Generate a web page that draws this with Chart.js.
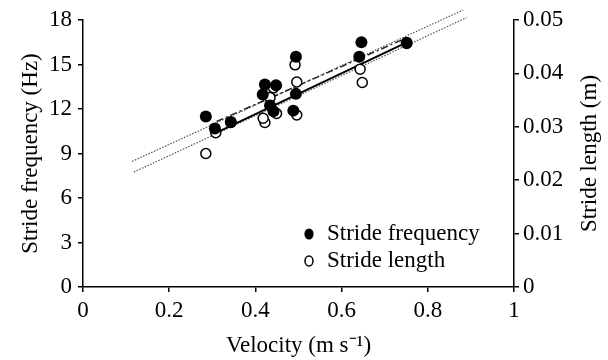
<!DOCTYPE html>
<html><head><meta charset="utf-8">
<script src="https://cdn.jsdelivr.net/npm/chart.js@4/dist/chart.umd.min.js"></script>
<style>html,body{margin:0;padding:0;background:#fff}#wrap{width:608px;height:360px}</style>
</head><body><div id="wrap"><canvas id="c" width="608" height="360"></canvas></div>
<script>
// ---- data ----
const velocityTicks = [0, 0.2, 0.4, 0.6, 0.8, 1];
const frequencyTicks = [0, 3, 6, 9, 12, 15, 18];
const lengthTicks = [0, 0.01, 0.02, 0.03, 0.04, 0.05];

const freqVelocity = [0.285, 0.306, 0.343, 0.422, 0.448, 0.417, 0.434, 0.442, 0.494, 0.494, 0.488, 0.646, 0.641, 0.751];
const strideFrequency = [11.49, 10.68, 11.13, 13.65, 13.60, 12.97, 12.23, 11.85, 15.52, 13.02, 11.89, 16.50, 15.52, 16.47];

const lengthVelocity = [0.285, 0.308, 0.343, 0.422, 0.449, 0.418, 0.434, 0.442, 0.496, 0.496, 0.492, 0.648, 0.643, 0.751];
const strideLength = [0.0250, 0.0289, 0.0308, 0.0308, 0.0325, 0.0316, 0.0355, 0.0373, 0.0322, 0.0384, 0.0416, 0.0383, 0.0408, 0.0456];

const freqFitX = [0.30, 0.75];
const freqFitY = [10.27, 16.47];
const lengthFitX = [0.31, 0.745];
const lengthFitY = [0.0310, 0.04645];
const freqExtX = [0.118, 0.89];
const freqExtY = [7.75, 18.16];
const lengthExtX = [0.114, 0.882];
const lengthExtY = [0.02353, 0.05186];

const xTitle = 'Velocity (m s\u207B\u00B9)';
const yTitle = 'Stride frequency (Hz)';
const y2Title = 'Stride length (m)';

// ---- helpers ----
const pts = (xs, ys) => xs.map((x, i) => ({x: x, y: ys[i]}));
const FONT = 'Liberation Serif, Times New Roman, serif';
Chart.defaults.color = '#000';
Chart.defaults.font.family = FONT;

const overlay = {
  id: 'overlay',
  afterDraw(chart) {
    const ctx = chart.ctx;
    const ca = chart.chartArea;
    ctx.save();
    // right axis title reading bottom-to-top
    ctx.font = '23px ' + FONT;
    ctx.fillStyle = '#000';
    ctx.textAlign = 'center';
    ctx.textBaseline = 'middle';
    ctx.translate(590, (ca.top + ca.bottom) / 2);
    ctx.rotate(-Math.PI / 2);
    ctx.fillText(y2Title, 0, 0);
    ctx.restore();

    // legend
    ctx.save();
    const ds = chart.data.datasets;
    ctx.font = '23px ' + FONT;
    ctx.fillStyle = '#000';
    ctx.textAlign = 'left';
    ctx.textBaseline = 'alphabetic';
    ctx.beginPath();
    ctx.ellipse(309, 234, 4.6, 5.6, 0, 0, Math.PI * 2);
    ctx.fill();
    ctx.fillText(ds[0].label, 327, 240);
    ctx.beginPath();
    ctx.lineWidth = 1.5;
    ctx.strokeStyle = '#000';
    ctx.ellipse(309, 261, 4, 5, 0, 0, Math.PI * 2);
    ctx.stroke();
    ctx.fillText(ds[1].label, 327, 267);
    ctx.restore();
  }
};

const axisCommon = (ticksArr, pad) => ({
  afterBuildTicks: s => { s.ticks = ticksArr.map(v => ({value: v})); },
  ticks: {font: {size: 23, family: FONT}, color: '#000', padding: pad, callback: v => String(v)},
  grid: {drawOnChartArea: false, drawTicks: true, tickLength: 5, color: '#000', lineWidth: 1.5},
  border: {display: true, color: '#000', width: 1.5}
});

new Chart(document.getElementById('c'), {
  type: 'scatter',
  data: {
    datasets: [
      {label: 'Stride frequency', data: pts(freqVelocity, strideFrequency), yAxisID: 'y',
       pointStyle: 'circle', pointRadius: 6, backgroundColor: '#000', borderColor: '#000', borderWidth: 0},
      {label: 'Stride length', data: pts(lengthVelocity, strideLength), yAxisID: 'y2',
       pointStyle: 'circle', pointRadius: 5, backgroundColor: '#fff', borderColor: '#000', borderWidth: 1.5},
      {label: 'Frequency fit', type: 'line', data: pts(freqFitX, freqFitY), yAxisID: 'y',
       borderColor: '#000', borderWidth: 2, pointRadius: 0, showLine: true, fill: false},
      {label: 'Length fit', type: 'line', data: pts(lengthFitX, lengthFitY), yAxisID: 'y2',
       borderColor: '#222', borderWidth: 1.5, borderDash: [7, 3, 2, 3], pointRadius: 0, showLine: true, fill: false},
      {label: 'Frequency extension', type: 'line', data: pts(freqExtX, freqExtY), yAxisID: 'y',
       borderColor: '#555', borderWidth: 1.2, borderDash: [1.5, 1.5], pointRadius: 0, showLine: true, fill: false, clip: false},
      {label: 'Length extension', type: 'line', data: pts(lengthExtX, lengthExtY), yAxisID: 'y2',
       borderColor: '#555', borderWidth: 1.2, borderDash: [1.5, 1.5], pointRadius: 0, showLine: true, fill: false, clip: false}
    ]
  },
  options: {
    responsive: false,
    animation: false,
    devicePixelRatio: 1,
    layout: {padding: {top: 20, left: 0, right: 0, bottom: 0}},
    plugins: {legend: {display: false}, tooltip: {enabled: false}},
    scales: {
      x: Object.assign(axisCommon(velocityTicks, 5), {
        type: 'linear', position: 'bottom', min: 0, max: 1,
        title: {display: true, text: xTitle, font: {size: 23, family: FONT}, color: '#000', padding: {top: 0, bottom: 0}},
        afterFit: s => { s.height = 73; }
      }),
      y: Object.assign(axisCommon(frequencyTicks, 6), {
        type: 'linear', position: 'left', min: 0, max: 18,
        title: {display: true, text: yTitle, font: {size: 23, family: FONT}, color: '#000', padding: {top: 17, bottom: 0}},
        afterFit: s => { s.width = 83; }
      }),
      y2: Object.assign(axisCommon(lengthTicks, 4), {
        type: 'linear', position: 'right', min: 0, max: 0.05,
        title: {display: false, text: y2Title},
        afterFit: s => { s.width = 94; }
      })
    }
  },
  plugins: [overlay]
});
</script>
</body></html>
